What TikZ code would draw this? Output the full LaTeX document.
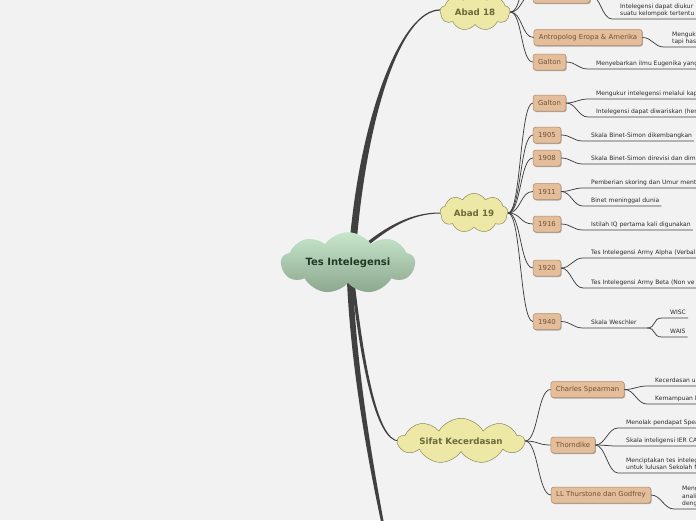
\documentclass[tikz,border=0pt]{standalone}
\usepackage{fontspec}
\setmainfont{DejaVu Sans}
\usetikzlibrary{shapes.symbols,shadows,calc}
\definecolor{bg}{HTML}{F2F2F2}
\definecolor{conncol}{HTML}{404040}
\definecolor{boxfill}{HTML}{E4BE9A}
\definecolor{boxdraw}{HTML}{B08A68}
\definecolor{boxtext}{HTML}{6E5238}
\definecolor{yel}{HTML}{EDE8A6}
\definecolor{yeldraw}{HTML}{8C8A5C}
\definecolor{yeltext}{HTML}{6B6A3A}
\definecolor{grtop}{HTML}{C8E6CB}
\definecolor{grbot}{HTML}{8BA88E}
\definecolor{grtext}{HTML}{1F3A22}
\definecolor{leafcol}{HTML}{2A2A2A}
\tikzset{
  conn/.style={draw=conncol, line width=0.75pt},
  topicbox/.style={rectangle, rounded corners=2.5pt, fill=boxfill, draw=boxdraw,
    line width=0.5pt, text=boxtext, font=\fontsize{6.9}{8}\selectfont,
    inner xsep=5pt, inner ysep=0pt, minimum height=16pt,
    drop shadow={shadow xshift=0.8pt, shadow yshift=-1pt, opacity=0.3, fill=black}},
  leaftext/.style={anchor=south west, inner xsep=0pt, inner ysep=2.3pt,
    text depth=1.2pt, font=\fontsize{6}{7.3}\selectfont, text=leafcol, align=left},
  yelcloud/.style={cloud, cloud puffs=9, cloud puff arc=120,
    fill=yel, draw=yeldraw, line width=0.5pt, text=yeltext,
    font=\fontsize{8.7}{10}\selectfont\bfseries, inner sep=0pt},
  rootcloud/.style={cloud, cloud puffs=9, cloud puff arc=110, aspect=2.8,
    minimum width=134pt, minimum height=48pt, top color=grtop, bottom color=grbot,
    draw=none, text=grtext, font=\fontsize{10}{12}\selectfont\bfseries, inner sep=0pt},
}
% name, parent point, text x, line y, text
\newcommand\leafnode[5]{%
  \node[leaftext] (#1) at (#3,#4) {#5};
  \coordinate (#1s) at ($(#1.south west)+(-8,0)$);
  \draw[conn] (#2) .. controls +(10,0) and +(-10,0) .. (#1s) -- ($(#1.south east)+(2,0)$);
}
\begin{document}
\begin{tikzpicture}[x=1pt,y=-1pt]
\fill[bg] (0,0) rectangle (696,520);
\useasboundingbox (0,0) rectangle (696,520);

% tapered main branches
\fill[conncol] (349,250) .. controls (359,120) and (400,9.2) .. (440,9.4)
  -- (440,10.6) .. controls (400,10.8) and (366,120) .. (356,250) -- cycle;
\fill[conncol] (365,243.7) .. controls (385,227.7) and (410,212.4) .. (440,212.5)
  -- (440,213.5) .. controls (410,213.6) and (387,230.3) .. (367,246.3) -- cycle;
\fill[conncol] (351.4,282) .. controls (360.4,360) and (375,441.6) .. (399,441.4)
  -- (399,440.6) .. controls (377,440.4) and (363.6,360) .. (354.6,282) -- cycle;
\fill[conncol] (347,282) .. controls (351.2,370) and (367.8,460) .. (381.7,525)
  -- (384.3,525) .. controls (372.2,460) and (356.8,370) .. (353,282) -- cycle;

% central and main topics
\node[rootcloud] (root) at (348,263) {Tes Intelegensi};
\node[yelcloud, aspect=2.06, minimum width=70pt, minimum height=34pt] (a18) at (475,12) {Abad 18};
\node[yelcloud, aspect=1.9, minimum width=68pt, minimum height=36pt] (a19) at (474,213) {Abad 19};
\node[yelcloud, aspect=5, minimum width=126pt, minimum height=38pt] (sk) at (461,441) {Sifat Kecerdasan};

% Abad 18 topics
\node[topicbox, minimum width=57pt] (t18a) at (561.5,-5) {};
\node[topicbox] (t18b) at (588,37.5) {Antropolog Eropa \& Amerika};
\node[topicbox] (t18c) at (549.5,62) {Galton};
\coordinate (t18x) at (533,-30);
\foreach \t in {t18a.west,t18b.west,t18c.west,t18x}
  \draw[conn] (a18.east) .. controls +(12,0) and +(-12,0) .. (\t);

% Abad 19 topics
\node[topicbox] (b1) at (549.5,103) {Galton};
\node[topicbox] (b2) at (547,135) {1905};
\node[topicbox] (b3) at (547,158) {1908};
\node[topicbox] (b4) at (547,191.5) {1911};
\node[topicbox] (b5) at (547,224) {1916};
\node[topicbox] (b6) at (547,268) {1920};
\node[topicbox] (b7) at (547,321.5) {1940};
\foreach \t in {b1,b2,b3,b4,b5,b6,b7}
  \draw[conn] (a19.east) .. controls +(13,0) and +(-13,0) .. (\t.west);

% Sifat Kecerdasan topics
\node[topicbox] (c1) at (587.5,389.5) {Charles Spearman};
\node[topicbox] (c2) at (573,445) {Thorndike};
\node[topicbox] (c3) at (601,495) {LL Thurstone dan Godfrey};
\foreach \t in {c1,c2,c3}
  \draw[conn] (sk.east) .. controls +(13,0) and +(-13,0) .. (\t.west);

% leaves
\leafnode{l1}{t18a.east}{620}{19}{Intelegensi dapat diukur\\suatu kelompok tertentu}
\leafnode{l2}{t18b.east}{672}{47}{Menguk\\tapi has}
\leafnode{l3}{t18c.east}{596}{69}{Menyebarkan ilmu Eugenika yang}
\leafnode{l4}{b1.east}{596}{99}{Mengukur intelegensi melalui kap}
\leafnode{l5}{b1.east}{596}{117}{Intelegensi dapat diwariskan (her}
\leafnode{l6}{b2.east}{591}{141}{Skala Binet-Simon dikembangkan}
\leafnode{l7}{b3.east}{591}{164}{Skala Binet-Simon direvisi dan dim}
\leafnode{l8}{b4.east}{591}{188}{Pemberian skoring dan Umur ment}
\leafnode{l9}{b4.east}{591}{206}{Binet meninggal dunia}
\leafnode{l10}{b5.east}{591}{230}{Istilah IQ pertama kali digunakan}
\leafnode{l11}{b6.east}{591}{258}{Tes Intelegensi Army Alpha (Verbal}
\leafnode{l12}{b6.east}{591}{288}{Tes Intelegensi Army Beta (Non ve}
\node[leaftext] (l13) at (591,328) {Skala Weschler};
\coordinate (l13s) at ($(l13.south west)+(-8,0)$);
\coordinate (wfork) at ($(l13.south east)+(10,0)$);
\draw[conn] (b7.east) .. controls +(10,0) and +(-10,0) .. (l13s) -- (wfork);
\leafnode{l14}{wfork}{670}{318}{WISC}
\leafnode{l15}{wfork}{670}{337}{WAIS}
\leafnode{l16}{c1.east}{655}{386}{Kecerdasan u}
\leafnode{l17}{c1.east}{655}{404}{Kemampuan k}
\leafnode{l18}{c2.east}{626}{428}{Menolak pendapat Spea}
\leafnode{l19}{c2.east}{626}{446}{Skala inteligensi IER CA}
\leafnode{l20}{c2.east}{626}{473}{Menciptakan tes intelege\\untuk lulusan Sekolah M}
\leafnode{l21}{c3.east}{682}{509}{Meng\\anali\\deng}
\end{tikzpicture}
\end{document}
